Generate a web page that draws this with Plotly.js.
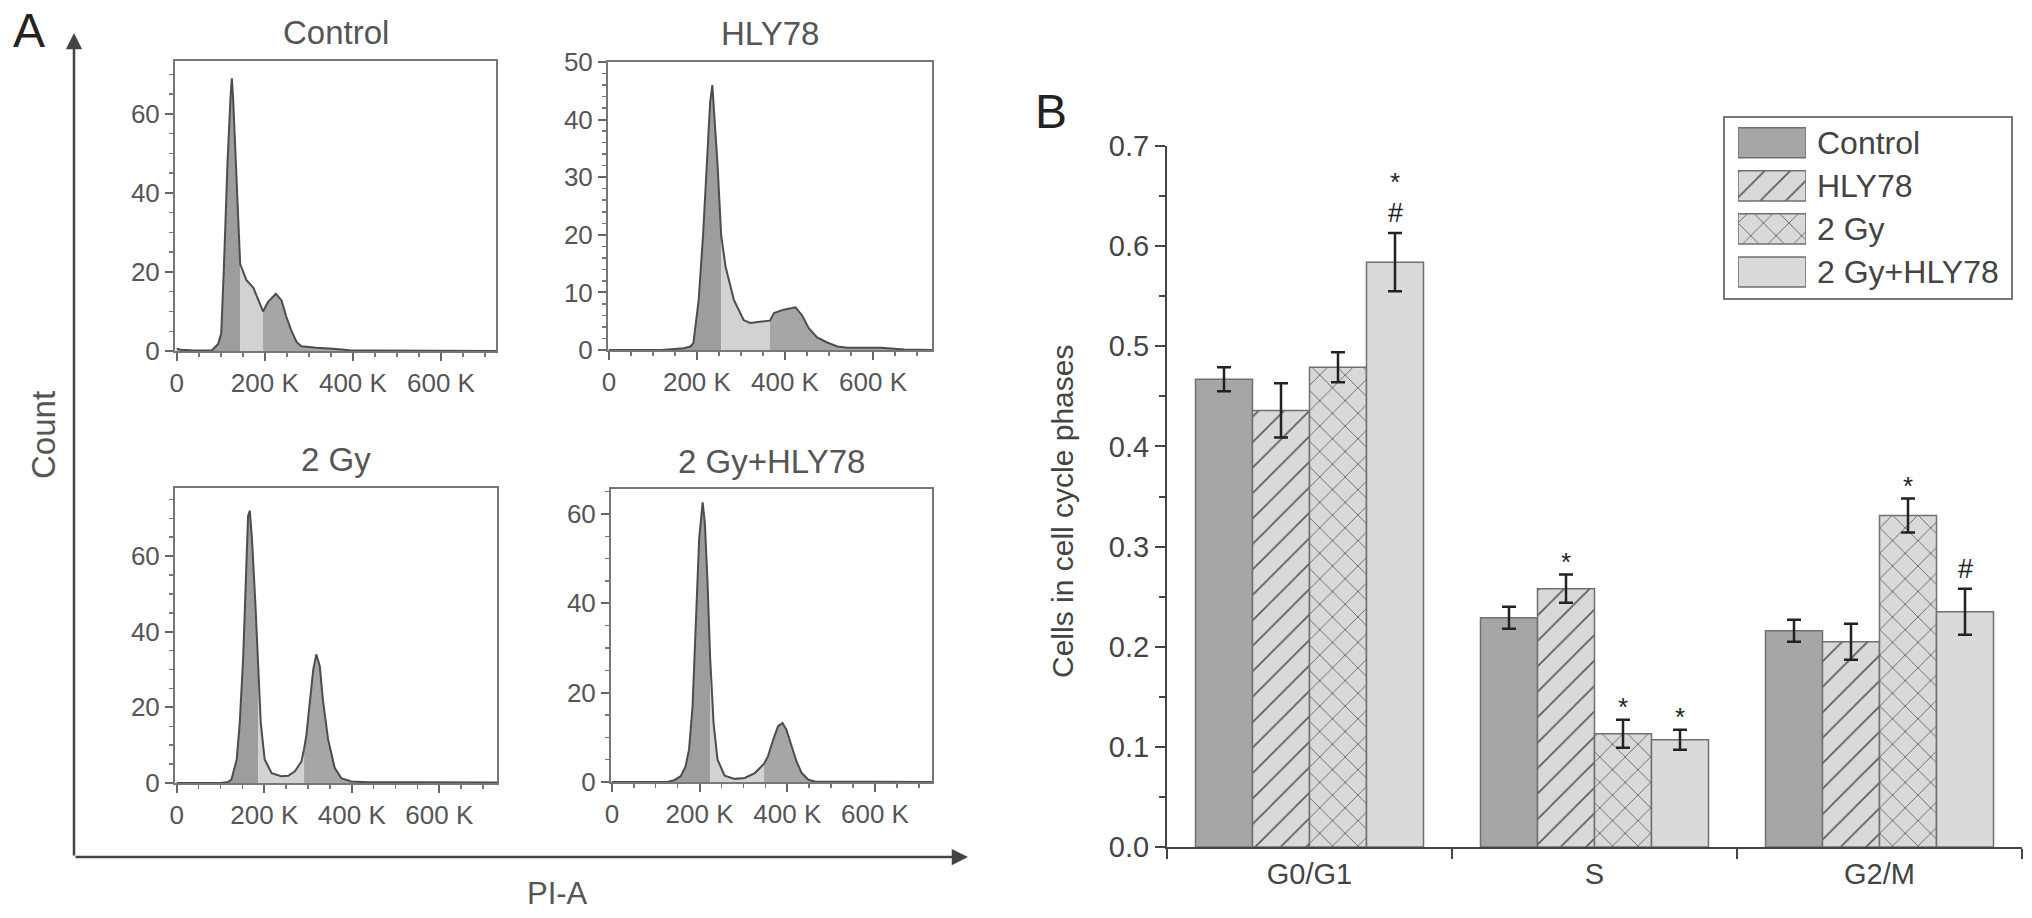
<!DOCTYPE html>
<html>
<head>
<meta charset="utf-8">
<script src="https://cdn.plot.ly/plotly-3.0.1.min.js"></script>
<style>
  html, body { margin: 0; padding: 0; background: #fff; }
  #chart { width: 2032px; height: 918px; }
</style>
</head>
<body>
<div id="chart"></div>
<script>
// ---- panel A: PI-A histograms (x in thousands) ----
var ctrlX = [0, 10, 40, 80, 94, 101, 107, 115, 122, 125, 128, 134, 140, 144, 158, 174, 185, 196, 207, 225, 238, 249, 260, 272, 283, 317, 355, 392, 450, 550, 725];
var ctrlY = [0.6, 0.3, 0.1, 0.2, 1.8, 4.4, 21, 47, 64, 69, 64, 47, 30, 22, 18, 16, 13, 10, 12.4, 14.5, 12.8, 8.6, 5.2, 2.3, 1.2, 0.8, 0.6, 0.2, 0.1, 0, 0];
var ctrlS = [144, 196];

var hlyX = [0, 120, 170, 185, 192, 204, 214, 223, 230, 235, 240, 247, 255, 265, 284, 306, 321, 344, 366, 375, 397, 424, 439, 454, 473, 496, 519, 542, 618, 671, 734];
var hlyY = [0, 0, 0.3, 0.6, 1.2, 8.7, 20, 32, 43, 46, 40.5, 32, 20, 14.5, 8.7, 5.2, 4.7, 4.9, 5.1, 6.4, 7, 7.4, 6, 3.8, 2.2, 1.3, 0.6, 0.4, 0.4, 0.1, 0];
var hlyS = [255, 366];

var gyX = [0, 100, 118, 125, 137, 144, 152, 158, 163, 167, 172, 180, 186, 192, 201, 217, 239, 255, 270, 285, 291, 296, 304, 312, 319, 327, 334, 346, 361, 376, 399, 437, 550, 732];
var gyY = [0, 0, 0.3, 0.9, 6.2, 15.9, 33.6, 55.6, 70.6, 72, 64.5, 46.8, 29.1, 15.9, 6.2, 2.6, 1.8, 1.9, 3.1, 5.7, 9, 12.4, 21.2, 30, 34, 30.9, 22, 11.5, 4, 1.3, 0.4, 0.2, 0.2, 0.1];
var gyS = [186, 291];

var gyhX = [0, 100, 126, 142, 157, 168, 176, 184, 192, 199, 207, 212, 218, 224, 232, 241, 257, 280, 303, 326, 347, 356, 368, 379, 389, 398, 410, 421, 433, 448, 463, 730];
var gyhY = [0, 0, 0, 0.4, 1.3, 3.5, 7.3, 17, 35.7, 54.4, 62.6, 58, 45, 28, 13, 5, 1.4, 0.7, 0.9, 2, 4.1, 5.8, 9.5, 12.5, 13.2, 11.7, 8, 4.6, 2, 0.5, 0.1, 0];
var gyhS = [224, 347];

var histTitles = ['Control', 'HLY78', '2 Gy', '2 Gy+HLY78'];
var piTickVals = [0, 200, 400, 600];
var piTickText = ['0', '200 K', '400 K', '600 K'];

// ---- panel B: fraction of cells per phase ----
var phases = ['G0/G1', 'S', 'G2/M'];
var groups = ['Control', 'HLY78', '2 Gy', '2 Gy+HLY78'];
var ctrlMean = [0.467, 0.229, 0.216];
var ctrlErr = [0.012, 0.011, 0.011];
var hlyMean = [0.436, 0.258, 0.205];
var hlyErr = [0.027, 0.014, 0.018];
var gyMean = [0.479, 0.113, 0.331];
var gyErr = [0.015, 0.014, 0.017];
var gyhMean = [0.584, 0.107, 0.235];
var gyhErr = [0.029, 0.010, 0.023];
var starMarks = [[0, 0, 0], [0, 1, 0], [0, 1, 1], [1, 1, 0]];
var hashMarks = [[0, 0, 0], [0, 0, 0], [0, 0, 0], [1, 0, 1]];

var W = 2032, H = 918;
function px(x) { return x / W; }
function py(y) { return 1 - y / H; }

var FONT = 'Liberation Sans, Arial, sans-serif';
var traces = [];
var layout = {
  width: W, height: H,
  margin: {l: 0, r: 0, t: 0, b: 0},
  paper_bgcolor: '#fff', plot_bgcolor: '#fff',
  showlegend: false,
  font: {family: FONT, color: '#555'},
  barmode: 'group', bargap: 0.2, bargroupgap: 0,
  annotations: [], shapes: []
};

// plain text label in figure pixels
function label(text, x, y, size, color, angle) {
  layout.annotations.push({text: text, xref: 'paper', yref: 'paper', x: px(x), y: py(y),
    xanchor: 'center', yanchor: 'middle', textangle: angle || 0, showarrow: false,
    font: {size: size, color: color}});
}

// histogram panels
var hists = [
  {x: ctrlX, y: ctrlY, s: ctrlS, xr: [-4, 725], yr: [0, 73.4], dt: 20, mt: 5, dx: [175, 496], dy: [61, 351]},
  {x: hlyX, y: hlyY, s: hlyS, xr: [-2, 734], yr: [0, 50], dt: 10, mt: 2, dx: [608, 932], dy: [62, 350]},
  {x: gyX, y: gyY, s: gyS, xr: [-4, 732], yr: [0, 78], dt: 20, mt: 5, dx: [175, 497], dy: [488, 783]},
  {x: gyhX, y: gyhY, s: gyhS, xr: [-2, 730], yr: [0, 65.6], dt: 20, mt: 5, dx: [611, 932], dy: [489, 782]}
];

hists.forEach(function(h, i) {
  var n = i + 1;
  var xa = 'x' + (n === 1 ? '' : n), ya = 'y' + (n === 1 ? '' : n);
  function part(test, color) {
    var xs = [], ys = [];
    h.x.forEach(function(v, k) { if (test(v)) { xs.push(v); ys.push(h.y[k]); } });
    traces.push({x: xs, y: ys, xaxis: xa, yaxis: ya, type: 'scatter', mode: 'lines',
      fill: 'tozeroy', fillcolor: color, line: {width: 0, color: color}, hoverinfo: 'skip'});
  }
  part(function(v) { return v <= h.s[0]; }, '#9d9d9d');
  part(function(v) { return v >= h.s[0] && v <= h.s[1]; }, '#d2d2d2');
  part(function(v) { return v >= h.s[1]; }, '#a6a6a6');
  traces.push({x: h.x, y: h.y, xaxis: xa, yaxis: ya, type: 'scatter', mode: 'lines',
    line: {color: '#4d4d4d', width: 2}});

  layout['xaxis' + (n === 1 ? '' : n)] = {
    domain: [px(h.dx[0]), px(h.dx[1])], anchor: ya, range: h.xr,
    tickmode: 'array', tickvals: piTickVals, ticktext: piTickText,
    ticks: 'outside', ticklen: 8, tickwidth: 2, tickcolor: '#666',
    minor: {tickmode: 'linear', tick0: 0, dtick: 50, ticks: 'outside', ticklen: 4, tickwidth: 1.5, tickcolor: '#777'},
    showline: true, mirror: true, linecolor: '#777', linewidth: 2,
    showgrid: false, zeroline: false,
    tickfont: {size: 26, color: '#555'}
  };
  layout['yaxis' + (n === 1 ? '' : n)] = {
    domain: [py(h.dy[1]), py(h.dy[0])], anchor: xa, range: h.yr,
    tickmode: 'linear', tick0: 0, dtick: h.dt,
    ticks: 'outside', ticklen: 8, tickwidth: 2, tickcolor: '#666',
    minor: {tickmode: 'linear', tick0: 0, dtick: h.mt, ticks: 'outside', ticklen: 4, tickwidth: 1.5, tickcolor: '#777'},
    showline: true, mirror: true, linecolor: '#777', linewidth: 2,
    showgrid: false, zeroline: false,
    tickfont: {size: 26, color: '#555'}
  };
  label(histTitles[i], (h.dx[0] + h.dx[1]) / 2, h.dy[0] - 28, 33, '#555');
});

// big arrows and labels of panel A
layout.annotations.push(
  {x: px(74), y: py(33), xref: 'paper', yref: 'paper', text: '', showarrow: true,
   ax: 0, ay: 824, arrowhead: 2, arrowsize: 1.3, arrowwidth: 2.5, arrowcolor: '#444'},
  {x: px(968), y: py(857), xref: 'paper', yref: 'paper', text: '', showarrow: true,
   ax: -894, ay: 0, arrowhead: 2, arrowsize: 1.3, arrowwidth: 2.5, arrowcolor: '#444'}
);
label('Count', 43, 435, 33, '#555', -90);
label('PI-A', 557, 893, 31, '#555');
label('A', 29, 31, 48, '#222');
label('B', 1051, 112, 48, '#222');
label('Cells in cell cycle phases', 1062, 512, 30, '#444', -90);

// ---- panel B bars ----
var barColors = ['#a6a6a6', '#d9d9d9', '#d9d9d9', '#dadada'];
var barShapes = ['', '/', 'x', ''];
var means = [ctrlMean, hlyMean, gyMean, gyhMean];
var errs = [ctrlErr, hlyErr, gyErr, gyhErr];

function barMarker(k) {
  return {color: barColors[k], line: {color: '#707070', width: 1.5},
    pattern: {shape: barShapes[k], fgcolor: '#5a5a5a', bgcolor: barColors[k], size: 18, solidity: 0.09}};
}

groups.forEach(function(g, k) {
  traces.push({
    type: 'bar', name: g, x: phases, y: means[k], xaxis: 'x5', yaxis: 'y5',
    marker: barMarker(k),
    error_y: {type: 'data', array: errs[k], visible: true, color: '#222', thickness: 2.5, width: 7}
  });
  phases.forEach(function(p, i) {
    var top = means[k][i] + errs[k][i];
    var off = -0.3 + 0.2 * k;
    // significance marks above the error bar
    if (hashMarks[k][i]) {
      layout.annotations.push({text: '#', x: i + off, y: top, xref: 'x5', yref: 'y5',
        xanchor: 'center', yanchor: 'middle', yshift: 20, showarrow: false,
        font: {size: 27, color: '#222'}});
    }
    if (starMarks[k][i]) {
      layout.annotations.push({text: '*', x: i + off, y: top, xref: 'x5', yref: 'y5',
        xanchor: 'center', yanchor: 'middle', yshift: hashMarks[k][i] ? 51 : 13, showarrow: false,
        font: {size: 26, color: '#222'}});
    }
  });

  // legend swatch for this group, a bar on a hidden axis pair
  traces.push({
    type: 'bar', orientation: 'h', y: [g], x: [1], base: 0,
    xaxis: 'x6', yaxis: 'y6', width: 0.7, offset: -0.35, hoverinfo: 'skip',
    marker: barMarker(k)
  });
  layout.annotations.push({text: g, xref: 'paper', yref: 'y6', x: px(1815), y: k,
    xanchor: 'left', yanchor: 'middle', showarrow: false, font: {size: 32, color: '#444'}});
});

layout.xaxis5 = {
  domain: [px(1167), px(2022)], anchor: 'y5', type: 'category', range: [-0.5, 2.5],
  tickson: 'boundaries', ticks: 'outside', ticklen: 10, tickwidth: 2, tickcolor: '#444',
  showline: true, linecolor: '#444', linewidth: 2, showgrid: false, zeroline: false,
  tickfont: {size: 29, color: '#444'}
};
layout.yaxis5 = {
  domain: [py(847), py(146)], anchor: 'x5', range: [0, 0.7],
  tickmode: 'linear', tick0: 0, dtick: 0.1, tickformat: '.1f',
  ticks: 'outside', ticklen: 10, tickwidth: 2, tickcolor: '#444',
  minor: {tickmode: 'linear', tick0: 0, dtick: 0.05, ticks: 'outside', ticklen: 6, tickwidth: 2, tickcolor: '#444'},
  showline: true, linecolor: '#444', linewidth: 2, showgrid: false, zeroline: false,
  tickfont: {size: 29, color: '#444'}
};

layout.xaxis6 = {domain: [px(1738), px(1806)], anchor: 'y6', range: [0, 1], visible: false, fixedrange: true};
layout.yaxis6 = {domain: [py(293.5), py(121.2)], anchor: 'x6', type: 'category',
  categoryorder: 'array', categoryarray: groups,
  range: [3.5, -0.5], visible: false, fixedrange: true};
layout.shapes.push({type: 'rect', xref: 'paper', yref: 'paper',
  x0: px(1724), x1: px(2012), y0: py(299), y1: py(117), line: {color: '#777', width: 2}});

Plotly.newPlot('chart', traces, layout, {staticPlot: true});
</script>
</body>
</html>
